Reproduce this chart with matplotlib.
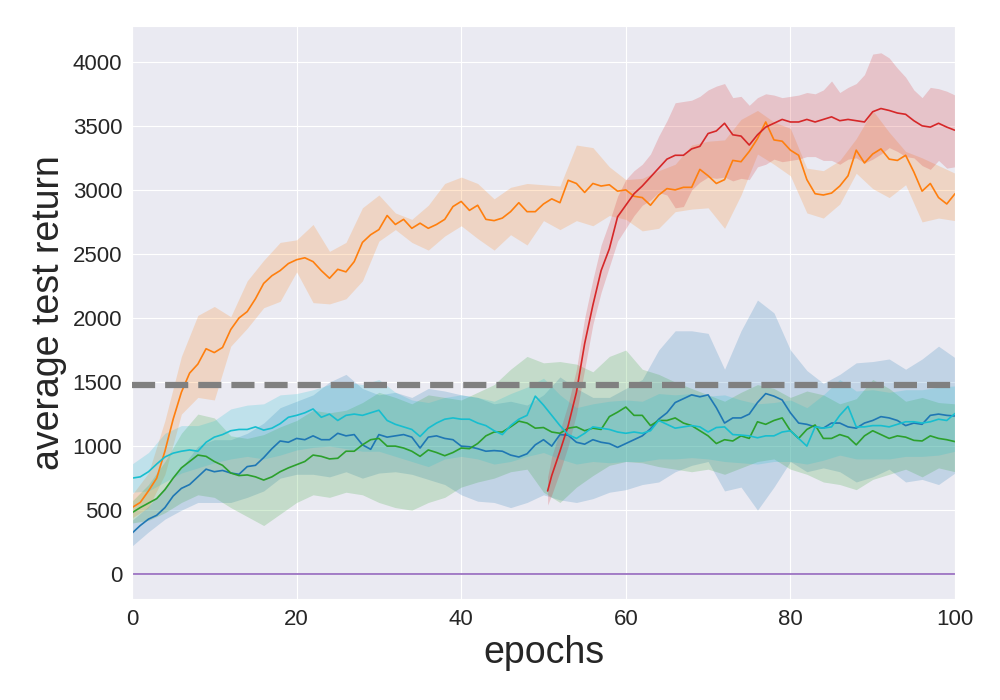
import numpy as np
import matplotlib
matplotlib.use("Agg")
import matplotlib.pyplot as plt
import seaborn as sns

sns.set_style("darkgrid")
plt.rcParams['font.family'] = ['Liberation Sans', 'DejaVu Sans']

# mean curves, one value per epoch (0..100)
epochs = np.arange(0, 101)
band_epochs = np.arange(0, 101, 2)

orange = [520, 560, 650, 750, 960, 1210, 1420, 1570, 1640, 1760,    # 0-9
          1730, 1770, 1910, 2000, 2050, 2150, 2270, 2330, 2370, 2425,  # 10-19
          2455, 2470, 2440, 2370, 2310, 2380, 2360, 2440, 2590, 2650,  # 20-29
          2690, 2800, 2730, 2770, 2700, 2740, 2700, 2730, 2770, 2870,  # 30-39
          2910, 2840, 2880, 2770, 2760, 2780, 2830, 2900, 2830, 2830,  # 40-49
          2890, 2930, 2900, 3075, 3050, 2980, 3050, 3030, 3040, 2990,  # 50-59
          3000, 2950, 2940, 2880, 2960, 3010, 3000, 3020, 3020, 3160,  # 60-69
          3110, 3050, 3080, 3230, 3220, 3300, 3400, 3530, 3390, 3380,  # 70-79
          3310, 3270, 3080, 2970, 2960, 2975, 3030, 3110, 3310, 3210,  # 80-89
          3280, 3320, 3240, 3230, 3270, 3140, 2990, 3050, 2940, 2890,  # 90-99
          2970]

blue = [320, 380, 430, 460, 520, 610, 670, 700, 760, 820,
        800, 810, 790, 780, 840, 850, 910, 980, 1040, 1030,
        1060, 1050, 1080, 1050, 1050, 1100, 1080, 1090, 1010, 975,
        1090, 1070, 1080, 1090, 1070, 985, 1070, 1080, 1060, 1050,
        1000, 995, 980, 960, 965, 960, 930, 915, 940, 1010,
        1050, 1000, 1090, 1085, 1030, 1015, 1050, 1030, 1020, 990,
        1020, 1050, 1080, 1135, 1210, 1260, 1340, 1370, 1400, 1385,
        1400, 1300, 1180, 1220, 1220, 1250, 1340, 1410, 1390, 1360,
        1260, 1180, 1170, 1150, 1140, 1180, 1180, 1150, 1140, 1180,
        1200, 1230, 1220, 1200, 1160, 1180, 1170, 1240, 1250, 1240,
        1235]

green = [480, 520, 555, 590, 660, 750, 830, 880, 930, 920,
         880, 850, 790, 770, 775, 760, 735, 760, 800, 830,
         855, 880, 930, 920, 900, 905, 960, 960, 1010, 1050,
         1060, 1000, 1000, 985, 960, 920, 970, 950, 925, 950,
         985, 980, 1020, 1080, 1110, 1110, 1150, 1195, 1180, 1140,
         1145, 1110, 1100, 1140, 1150, 1120, 1140, 1130, 1230, 1265,
         1305, 1240, 1240, 1160, 1200, 1200, 1220, 1180, 1160, 1120,
         1080, 1020, 1050, 1040, 1080, 1060, 1190, 1170, 1200, 1220,
         1120, 1060, 1130, 1165, 1060, 1060, 1090, 1070, 1010, 1080,
         1120, 1090, 1060, 1080, 1070, 1045, 1040, 1080, 1060, 1050,
         1035]

cyan = [750, 760, 800, 860, 915, 945, 960, 970, 960, 1030,
        1070, 1090, 1120, 1130, 1130, 1150, 1125, 1140, 1175, 1225,
        1240, 1260, 1290, 1225, 1250, 1200, 1240, 1250, 1240, 1260,
        1280, 1200, 1170, 1150, 1130, 1075, 1140, 1180, 1210, 1220,
        1210, 1210, 1180, 1160, 1120, 1090, 1160, 1210, 1240, 1390,
        1320, 1240, 1160, 1090, 1060, 1100, 1150, 1140, 1130, 1110,
        1100, 1110, 1100, 1120, 1200, 1170, 1140, 1150, 1160, 1150,
        1110, 1145, 1150, 1090, 1086, 1080, 1065, 1080, 1080, 1110,
        1120, 1060, 1000, 1150, 1140, 1150, 1240, 1310, 1150, 1150,
        1160, 1160, 1150, 1170, 1190, 1190, 1180, 1190, 1210, 1200,
        1255]

purple = [0] * 101

# red run starts half way
red_epochs = np.r_[50.5, np.arange(51, 101)]
red = [650, 770, 960, 1160, 1420, 1800, 2100, 2370, 2540, 2790, 2880,
       2970, 3030, 3100, 3170, 3240, 3270, 3270, 3320, 3340, 3440,
       3460, 3520, 3430, 3420, 3350, 3430, 3490, 3520, 3550, 3530,
       3530, 3550, 3530, 3550, 3570, 3540, 3550, 3540, 3530, 3610,
       3635, 3620, 3600, 3590, 3540, 3500, 3490, 3520, 3490, 3465]
red_lo = [540, 620, 800, 1000, 1250, 1600, 1950, 2200, 2400, 2600, 2700,
          2800, 2880, 2920, 2980, 2960, 2860, 2870, 3000, 3060, 3100,
          3090, 3100, 3070, 3090, 3080, 3180, 3200, 3240, 3220, 3230,
          3240, 3260, 3260, 3230, 3230, 3200, 3240, 3250, 3210, 3240,
          3280, 3330, 3300, 3260, 3250, 3190, 3160, 3230, 3170, 3180]
red_hi = [760, 920, 1120, 1330, 1600, 2000, 2300, 2570, 2750, 2950, 3080,
          3150, 3200, 3280, 3420, 3540, 3680, 3690, 3700, 3730, 3780,
          3810, 3830, 3720, 3730, 3660, 3720, 3750, 3740, 3720, 3730,
          3740, 3760, 3750, 3780, 3850, 3760, 3800, 3830, 3900, 4060,
          4070, 4030, 3950, 3880, 3780, 3720, 3800, 3790, 3770, 3740]

# shaded bands, every 2 epochs
orange_lo = [440, 520, 780, 1250, 1380, 1360, 1780, 1920, 2080, 2130,
             2360, 2120, 2110, 2150, 2290, 2600, 2690, 2590, 2530, 2640,
             2720, 2620, 2530, 2650, 2570, 2760, 2690, 2760, 2720, 2800,
             2770, 2680, 2700, 2830, 2850, 2860, 2700, 2960, 3280, 3200,
             3110, 2820, 2780, 2890, 3130, 3010, 2940, 3040, 2750, 2780,
             2760]
orange_hi = [620, 790, 1200, 1700, 2020, 2090, 2010, 2290, 2450, 2590,
             2610, 2730, 2520, 2590, 2860, 2960, 2820, 2770, 2880, 3050,
             3100, 3050, 2930, 3020, 3050, 3040, 3030, 3350, 3330, 3180,
             3080, 3090, 3150, 3200, 3350, 3380, 3390, 3550, 3620, 3530,
             3480, 3170, 3150, 3230, 3400, 3620, 3450, 3300, 3250, 3190,
             3130]

blue_lo = [220, 330, 430, 500, 560, 560, 560, 600, 650, 750,
           780, 780, 760, 800, 750, 790, 800, 780, 740, 700,
           620, 570, 560, 520, 560, 620, 580, 560, 590, 640,
           660, 700, 720, 800, 850, 880, 650, 680, 500, 680,
           880, 800, 830, 800, 720, 760, 820, 720, 740, 700,
           790]
blue_hi = [420, 530, 680, 830, 1000, 1050, 1050, 1100, 1180, 1300,
           1350, 1400, 1500, 1560, 1450, 1400, 1420, 1380, 1450, 1430,
           1400, 1380, 1330, 1350, 1320, 1400, 1540, 1450, 1380, 1380,
           1450, 1520, 1750, 1900, 1900, 1880, 1600, 1900, 2140, 2040,
           1750, 1590, 1490, 1560, 1650, 1660, 1680, 1600, 1680, 1780,
           1690]

green_lo = [400, 420, 480, 560, 620, 600, 520, 450, 380, 470,
            560, 620, 600, 640, 620, 560, 520, 500, 560, 600,
            680, 720, 750, 800, 820, 640, 560, 680, 770, 850,
            880, 870, 840, 820, 800, 820, 780, 830, 880, 900,
            820, 780, 720, 700, 660, 740, 780, 820, 760, 830,
            800]
green_hi = [570, 700, 880, 1100, 1250, 1220, 1080, 1060, 1090, 1150,
            1200, 1280, 1260, 1280, 1340, 1420, 1380, 1330, 1400, 1380,
            1360, 1420, 1480, 1600, 1700, 1650, 1660, 1640, 1580, 1700,
            1750, 1600, 1560, 1500, 1450, 1400, 1350, 1420, 1480, 1450,
            1380, 1430, 1400, 1330, 1370, 1520, 1450, 1350, 1380, 1340,
            1330]

cyan_lo = [640, 650, 720, 790, 830, 870, 900, 920, 900, 930,
           970, 990, 1000, 980, 960, 960, 920, 880, 840, 900,
           920, 900, 860, 880, 920, 950, 900, 860, 880, 870,
           880, 880, 900, 900, 910, 900, 880, 870, 860, 880,
           880, 860, 890, 930, 900, 900, 900, 920, 920, 930,
           960]
cyan_hi = [860, 950, 1100, 1160, 1160, 1200, 1290, 1320, 1330, 1400,
           1410, 1440, 1480, 1500, 1480, 1520, 1420, 1360, 1340, 1380,
           1400, 1380, 1350, 1410, 1460, 1530, 1400, 1300, 1330, 1350,
           1360, 1350, 1410, 1400, 1410, 1390, 1400, 1360, 1330, 1340,
           1360, 1300, 1400, 1520, 1430, 1440, 1420, 1440, 1440, 1460,
           1470]

baseline = 1475

fig = plt.figure(figsize=(10, 7), dpi=100)
ax = fig.add_axes([0.132, 0.144, 0.823, 0.819])

lw = 1.2
ax.fill_between(band_epochs, blue_lo, blue_hi, color='tab:blue', alpha=0.2, lw=0)
ax.plot(epochs, blue, color='tab:blue', lw=lw)
ax.fill_between(band_epochs, orange_lo, orange_hi, color='tab:orange', alpha=0.2, lw=0)
ax.plot(epochs, orange, color='tab:orange', lw=lw)
ax.fill_between(band_epochs, green_lo, green_hi, color='tab:green', alpha=0.2, lw=0)
ax.plot(epochs, green, color='tab:green', lw=lw)
ax.fill_between(red_epochs, red_lo, red_hi, color='tab:red', alpha=0.2, lw=0)
ax.plot(red_epochs, red, color='tab:red', lw=lw)
ax.plot(epochs, purple, color='tab:purple', lw=lw)
ax.fill_between(band_epochs, cyan_lo, cyan_hi, color='tab:cyan', alpha=0.2, lw=0)
ax.plot(epochs, cyan, color='tab:cyan', lw=lw)

ax.axhline(baseline, color='gray', ls='--', lw=4.5, zorder=5)

ax.set_xlim(0, 100)
ax.set_ylim(-195, 4280)
ax.set_xticks(np.arange(0, 101, 20))
ax.set_yticks(np.arange(0, 4001, 500))
ax.tick_params(labelsize=16)
ax.set_xlabel('epochs', fontsize=27)
ax.set_ylabel('average test return', fontsize=27)

fig.savefig('out.png', dpi=100)
